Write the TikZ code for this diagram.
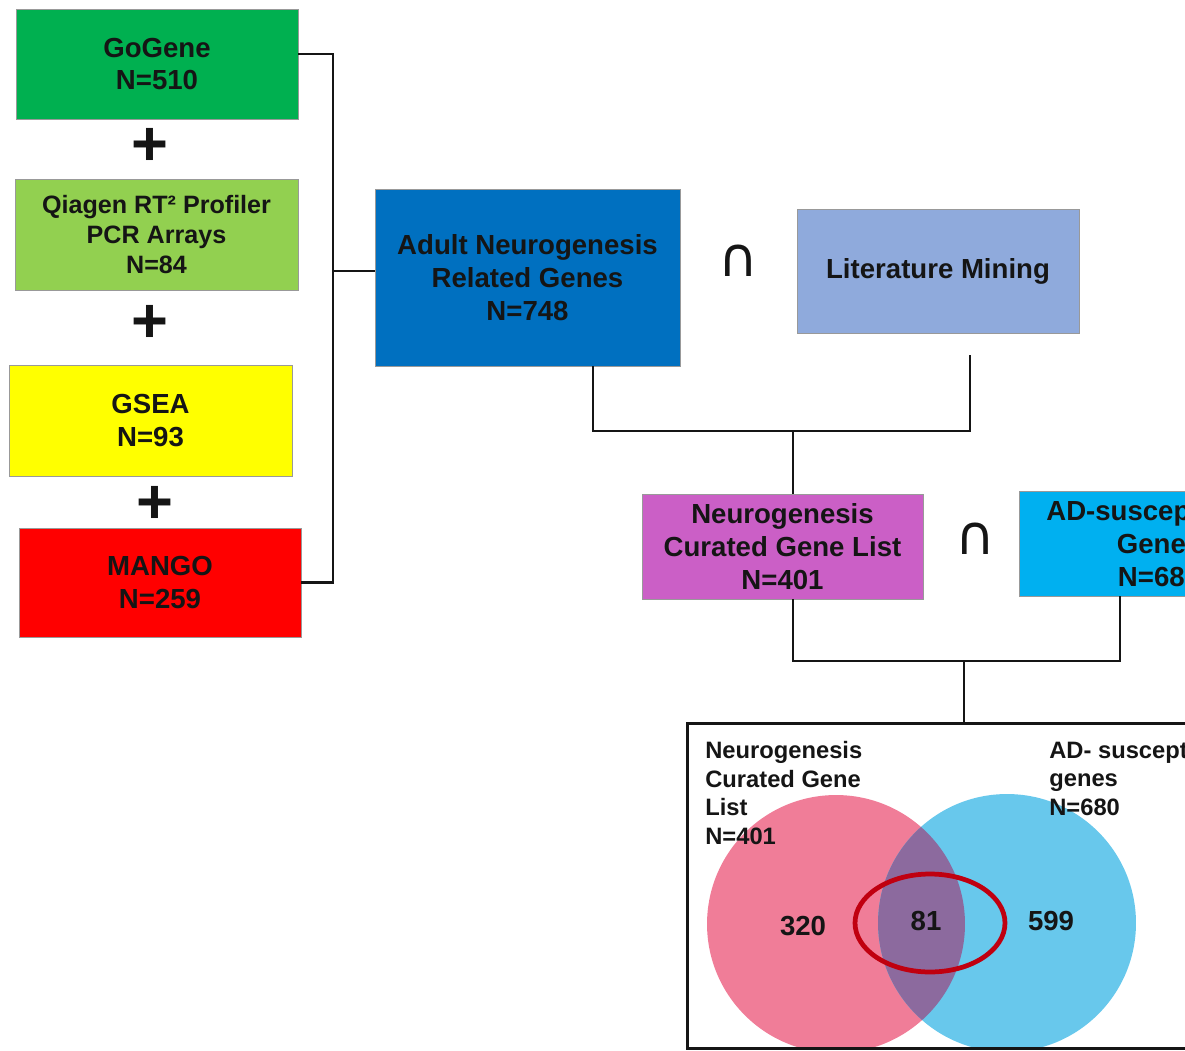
\documentclass[tikz,border=0pt]{standalone}
\usepackage{fontspec}
\setmainfont{Liberation Sans}
\newfontfamily\symfam{DejaVu Sans}
\usetikzlibrary{calc}
\definecolor{cgo}{HTML}{00B050}
\definecolor{cqia}{HTML}{92D050}
\definecolor{cgsea}{HTML}{FFFF00}
\definecolor{cmango}{HTML}{FF0000}
\definecolor{cadult}{HTML}{0070C0}
\definecolor{clit}{HTML}{8FAADC}
\definecolor{cneuro}{HTML}{CB5FC6}
\definecolor{cad}{HTML}{00B0F0}
\definecolor{vpink}{HTML}{F07D98}
\definecolor{vblue}{HTML}{68C8EC}
\definecolor{vpurp}{HTML}{8C6A9E}
\definecolor{vred}{HTML}{C00010}
\definecolor{txt}{HTML}{151515}
\newcommand\bxfont{\bfseries\fontsize{15.7}{18.7}\selectfont}
\newcommand\qiafont{\bfseries\fontsize{14.3}{17}\selectfont}
\newcommand\vlfont{\bfseries\fontsize{13.5}{16.4}\selectfont}
\begin{document}
\begin{tikzpicture}[x=0.02cm,y=-0.02cm,
  box/.style={draw=black!40, line width=0.4pt, inner sep=0pt, align=center, font=\bxfont, text=txt},
  conn/.style={line width=1.5pt, line join=miter, draw=txt},
  plussym/.style={inner sep=0pt, font=\bfseries\fontsize{36}{36}\selectfont, text=txt},
  capsym/.style={inner sep=0pt, font=\symfam\fontsize{31}{31}\selectfont, text=txt},
  vlab/.style={inner sep=0pt, align=left, font=\vlfont, text=txt},
  vnum/.style={inner sep=0pt, font=\bxfont, text=txt}]
\useasboundingbox (0,0) rectangle (1185,1050);
\clip (0,0) rectangle (1185,1050);

% left column
\node[box, fill=cgo, minimum width=5.64cm, minimum height=2.2cm] (go) at (157,64) {GoGene\\N=510};
\node[plussym] (p1) at (150,147) {+};
\node[box, fill=cqia, minimum width=5.66cm, minimum height=2.22cm, font=\qiafont] (qia) at (156.5,234.5) {Qiagen RT² Profiler\\PCR Arrays\\N=84};
\node[plussym] (p2) at (150,324) {+};
\node[box, fill=cgsea, minimum width=5.66cm, minimum height=2.22cm] (gsea) at (150.5,420.5) {GSEA\\N=93};
\node[plussym] (p3) at (155,505) {+};
\node[box, fill=cmango, minimum width=5.64cm, minimum height=2.18cm] (mango) at (160,582.5) {MANGO\\N=259};

% middle
\node[box, fill=cadult, minimum width=6.1cm, minimum height=3.54cm] (adult) at (527.5,277.5) {Adult Neurogenesis\\Related Genes\\N=748};
\node[capsym] (cap1) at (738,261) {∩};
\node[box, fill=clit, minimum width=5.64cm, minimum height=2.48cm] (lit) at (938,271) {Literature Mining};

\node[box, fill=cneuro, minimum width=5.62cm, minimum height=2.1cm] (neuro) at (782.5,546.5) {Neurogenesis\\Curated Gene List\\N=401};
\node[capsym] (cap2) at (975,539) {∩};
\node[box, fill=cad, minimum width=5.6cm, minimum height=2.1cm] (ad) at (1159,543.5) {AD-susceptibility\\Genes\\N=680};

% connectors
\coordinate (bk) at (333,271);
\draw[conn] ([yshift=0.2cm]go.east) -| (bk) |- (mango.east);
\draw[conn] (bk) -- (bk -| adult.west);

\coordinate (j1) at (793,431);
\coordinate (lend) at (970,355);
\draw[conn] ([xshift=1.31cm]adult.south) |- (j1) -| (lend);
\draw[conn] (j1) -- (j1 |- neuro.north);

% venn box
\node[minimum width=12.24cm, minimum height=6.48cm, inner sep=0pt] (venn) at (994,886) {};
\coordinate (j2) at (964,661);
\draw[conn] ([xshift=0.21cm]neuro.south) |- (j2) -| ([xshift=-0.78cm]ad.south);
\draw[conn] (j2) -- (j2 |- venn.north);

\begin{scope}
  \clip (venn.south west) rectangle (venn.north east);
  \fill[vpink] (836,924) circle[radius=2.58cm];
  \fill[vblue] (1007,923) circle[radius=2.58cm];
  \begin{scope}
    \clip (836,924) circle[radius=2.58cm];
    \fill[vpurp] (1007,923) circle[radius=2.58cm];
  \end{scope}
  \draw[vred, line width=2.7pt] (930,923) ellipse[x radius=1.5cm, y radius=0.98cm];
\end{scope}
\draw[line width=1.7pt, draw=txt] (venn.south west) rectangle (venn.north east);

\node[vlab, anchor=west] (vl1) at (705,793) {Neurogenesis\\Curated Gene\\List\\N=401};
\node[vlab, anchor=west] (vl2) at (1049,778.5) {AD- susceptibility\\genes\\N=680};
\node[vnum] (n320) at (803,926) {320};
\node[vnum] (n81) at (926,921) {81};
\node[vnum] (n599) at (1051,921) {599};
\end{tikzpicture}
\end{document}
